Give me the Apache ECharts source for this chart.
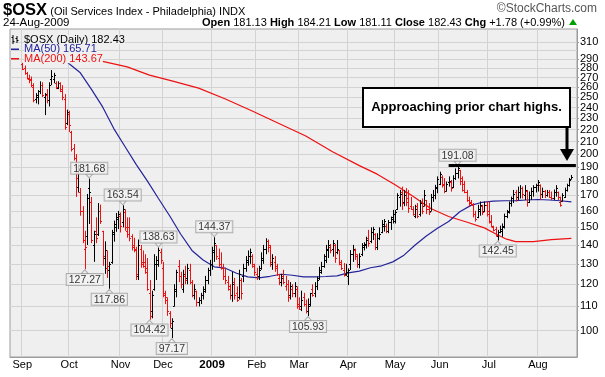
<!DOCTYPE html>
<html>
<head>
<meta charset="utf-8">
<title>$OSX daily</title>
<script src="https://cdn.jsdelivr.net/npm/echarts@6.0.0/dist/echarts.min.js"></script>
<style>
  html, body { margin: 0; padding: 0; background: #ffffff; }
  #chart { width: 605px; height: 377px; }
</style>
</head>
<body>
<div id="chart"></div>
<script>
// trading days on the x axis, by month (late Aug 2008 sits under the legend, no bars there)
const tradingDays = [
  ['2008-08', [25, 26, 27, 28, 29]],
  ['2008-09', [2, 3, 4, 5, 8, 9, 10, 11, 12, 15, 16, 17, 18, 19, 22, 23, 24, 25, 26, 29, 30]],
  ['2008-10', [1, 2, 3, 6, 7, 8, 9, 10, 13, 14, 15, 16, 17, 20, 21, 22, 23, 24, 27, 28, 29, 30, 31]],
  ['2008-11', [3, 4, 5, 6, 7, 10, 11, 12, 13, 14, 17, 18, 19, 20, 21, 24, 25, 26, 28]],
  ['2008-12', [1, 2, 3, 4, 5, 8, 9, 10, 11, 12, 15, 16, 17, 18, 19, 22, 23, 24, 26, 29, 30, 31]],
  ['2009-01', [2, 5, 6, 7, 8, 9, 12, 13, 14, 15, 16, 20, 21, 22, 23, 26, 27, 28, 29, 30]],
  ['2009-02', [2, 3, 4, 5, 6, 9, 10, 11, 12, 13, 17, 18, 19, 20, 23, 24, 25, 26, 27]],
  ['2009-03', [2, 3, 4, 5, 6, 9, 10, 11, 12, 13, 16, 17, 18, 19, 20, 23, 24, 25, 26, 27, 30, 31]],
  ['2009-04', [1, 2, 3, 6, 7, 8, 9, 13, 14, 15, 16, 17, 20, 21, 22, 23, 24, 27, 28, 29, 30]],
  ['2009-05', [1, 4, 5, 6, 7, 8, 11, 12, 13, 14, 15, 18, 19, 20, 21, 22, 26, 27, 28, 29]],
  ['2009-06', [1, 2, 3, 4, 5, 8, 9, 10, 11, 12, 15, 16, 17, 18, 19, 22, 23, 24, 25, 26, 29, 30]],
  ['2009-07', [1, 2, 6, 7, 8, 9, 10, 13, 14, 15, 16, 17, 20, 21, 22, 23, 24, 27, 28, 29, 30, 31]],
  ['2009-08', [3, 4, 5, 6, 7, 10, 11, 12, 13, 14, 17, 18, 19, 20, 21, 24]]
];
const firstBarDate = '2008-09-02';
const padSlots = ['pad-1', 'pad-2'];

// daily bars, 2008-09-02 .. 2009-08-24, one line per month
const opens = [
  285, 280, 275, 268, 268, 260, 248, 250, 256, 262, 250, 252, 247, 268, 268, 264, 259, 264, 256, 248, 226,
  234, 218, 205, 190, 176, 172, 160, 138, 145, 175, 166, 140, 148, 146, 160, 148, 133, 128, 127, 131, 147, 152, 155,
  157, 153, 159, 148, 150, 145, 140, 137, 124, 138, 130, 131, 126, 116, 108, 118, 130, 130, 136,
  128, 116, 113, 107, 101, 110, 117, 129, 124, 118, 124, 123, 127, 121, 115, 117, 112, 113, 115, 117, 122, 127,
  130, 136, 140, 133, 130, 128, 124, 121, 118, 115, 121, 116, 114, 122, 124, 128, 131, 134, 134, 129,
  125, 124, 128, 132, 138, 142, 139, 130, 131, 128, 123, 121, 124, 119, 120, 115, 118, 116, 118,
  110, 110, 114, 111, 108, 111, 118, 116, 119, 123, 127, 129, 132, 137, 139, 138, 140, 136, 137, 130, 127, 125,
  124, 130, 135, 137, 134, 130, 135, 139, 140, 144, 142, 147, 146, 139, 144, 147, 151, 151, 148, 153, 156,
  154, 161, 169, 172, 166, 172, 166, 163, 161, 157, 163, 158, 166, 163, 167, 161, 160, 169, 170, 176,
  178, 183, 178, 173, 179, 179, 176, 182, 186, 188, 180, 178, 172, 167, 166, 164, 158, 156, 160, 163, 160, 164,
  160, 153, 150, 149, 145, 147, 148, 151, 157, 160, 165, 168, 172, 169, 172, 175, 170, 173, 166, 170, 173, 176,
  177, 177, 171, 173, 170, 172, 169, 168, 172, 172, 166, 166.5, 169, 174, 177, 181.13
];
const highs = [
  286, 283, 276, 273, 271, 264, 254, 257, 266, 265, 254, 258, 265, 278, 275, 266, 266, 265, 262, 253, 238,
  237, 219, 208, 200, 192, 175, 163, 148, 171, 181.68, 169, 148, 156, 165, 164, 148, 142, 137, 131, 148.5, 154, 158.7, 160,
  159, 163.54, 161, 156, 156, 146, 144, 139, 143, 140, 137, 135, 133, 122, 117, 135, 134, 138.63, 138,
  131, 117, 114, 108, 105, 120, 127, 132, 126, 127, 129, 130, 130, 122, 120, 117, 114, 116, 119, 124, 128, 132,
  139, 144.37, 140, 138, 136, 130, 128, 124, 120, 126, 123, 119, 127, 123, 130, 134, 137, 138, 135, 130,
  128, 129, 136, 140, 143.7, 143, 140, 135, 134, 130, 125, 125, 127, 124, 122, 121, 120, 121, 119,
  114, 117, 116, 113, 113.5, 116, 120, 121, 123.7, 128.5, 131, 135, 140, 142.7, 140.5, 142.7, 140.5, 142.7, 137.2, 132, 130.4, 130,
  127.7, 137.2, 140, 138, 135, 135.5, 141, 141.5, 144.6, 148.5, 150, 150.3, 146.6, 146.6, 150, 154.4, 155, 152.3, 154.4, 156.5, 160.6,
  160.6, 171.5, 173.7, 176, 173.7, 175, 173.7, 169, 163, 163.9, 165, 167, 168, 173.7, 167, 165, 171, 173.7, 177.2, 183.2,
  186.6, 184, 182, 179.5, 183.2, 180.6, 184, 189, 191.08, 188, 183.2, 180, 173.7, 169.2, 167, 165, 160, 163.9, 166, 163.9, 166, 166,
  166, 157.4, 151, 150.3, 148.5, 151, 152.3, 158.3, 160.6, 166, 169.2, 173.7, 173.7, 176, 177, 176, 177, 173.7, 172.6, 175.3, 177, 178,
  180.6, 177.5, 175.3, 173.7, 173.7, 173.7, 172.6, 174, 177, 172.6, 169.2, 171.5, 175.3, 178, 182, 184.21
];
const lows = [
  278, 273, 268, 264, 260, 245, 244, 243, 253, 250, 233, 244, 241, 262, 264, 258, 258, 255, 247, 220, 224,
  218, 202, 195, 169, 172, 157, 141, 127.27, 140, 152, 141, 131, 141, 145, 152, 129, 125, 123, 117.86, 130, 141.8, 147.4, 149,
  147, 150, 148, 144, 142, 137, 136, 122, 122, 128, 128, 125, 117, 104.42, 105, 117, 122, 128.5, 130,
  114, 111, 106, 101, 97.17, 110, 114, 121, 118, 116, 120, 120, 120, 114, 113, 110, 110, 111, 113, 116, 120, 124,
  127, 131, 132, 128.5, 127, 122, 120, 117, 113, 112, 113, 112, 113, 113, 121, 126, 129, 130, 128, 124,
  122, 122, 127, 130, 135, 136, 128.5, 127, 126, 124, 119.6, 119, 120, 117, 112, 113, 114, 114, 109,
  108.5, 108, 110, 107, 105.93, 110, 114.3, 114, 117.3, 122, 125, 128, 130.4, 133, 135.5, 133.7, 130.5, 135, 129.3, 126.9, 123.7, 124,
  119.6, 126.9, 131, 132, 128, 127.7, 134, 137, 138, 139, 141, 142.7, 137.2, 137.2, 142.7, 146.6, 147.5, 146.6, 146.6, 148.5, 152.3,
  152.3, 160.6, 162.7, 160.6, 163, 163, 158.8, 160.6, 157, 155.5, 155.5, 156.5, 158, 163, 158, 157.4, 160, 165.8, 167.5, 171.5,
  177, 175.3, 171.5, 172.6, 176, 172.6, 175, 180.6, 181.7, 177, 172.6, 171.5, 165.8, 162.7, 163.5, 156, 153.4, 155.5, 157, 157.4, 159.2, 156.5,
  152.3, 150, 147.6, 144.6, 142.45, 146.6, 144.6, 149.3, 155.5, 158.3, 162.7, 165, 166, 167, 168, 168, 167, 162.7, 165, 167, 169.2, 172,
  172.6, 167, 168.3, 168.3, 169.2, 168.3, 167, 167, 169.2, 167, 162.7, 166, 168.3, 172.6, 176, 181.11
];
const closes = [
  279, 275, 269, 267, 262, 247, 252, 256, 262, 252, 253, 247, 262, 272, 273, 260, 264, 258, 250, 222, 236,
  224, 204, 197, 182, 188, 160, 143, 139, 168, 172, 143, 146, 144, 160, 154, 134, 137, 129, 130, 146, 150, 156, 158,
  151, 161, 150, 146, 144, 139, 138, 125, 140, 131, 129, 128, 118, 106, 115, 130, 132, 137, 132,
  115, 114, 108, 103, 104, 118, 126, 124, 120, 125, 122, 128, 121, 115, 118, 112, 113, 115, 118, 122, 127, 130,
  137, 141, 134, 130, 128, 124, 122, 119, 115, 120, 115, 113, 125, 116, 128, 132, 134, 136, 130, 126,
  124, 127, 133, 138, 142, 140, 131, 133, 129, 125, 121, 123, 121, 120, 114, 119, 116, 119, 111,
  109, 113, 111, 108, 110, 116, 115, 119, 122, 126, 129, 134, 138, 140, 137, 141, 133, 138, 131, 128, 124.5, 126,
  127, 135, 138, 135, 130, 134, 140, 140.5, 143, 141, 147, 149, 139, 144, 146, 152, 154, 148, 153, 155, 158,
  159, 170, 171, 165, 170, 168, 162, 161, 158, 161, 157, 165, 160, 170, 161, 159, 169, 170, 175, 181,
  185, 177, 173, 178, 180, 175, 182, 186, 189, 182, 174, 172.5, 167, 165, 164.5, 158, 155, 161, 164, 159, 164, 158,
  154, 151, 148.5, 145.5, 147, 149, 150, 157, 159, 165, 168, 171, 169, 172, 175, 171, 174, 166, 170, 173, 176, 177,
  179, 171, 173, 170, 172, 169, 168, 172, 175, 169, 164, 170, 174, 177, 180.65, 182.43
];

// moving averages, [date, value]
const ma50 = [
  ['2008-09-24', 296], ['2008-10-01', 285], ['2008-10-08', 275], ['2008-10-15', 257.7], ['2008-10-22', 240.6],
  ['2008-10-29', 221], ['2008-11-05', 206], ['2008-11-12', 192], ['2008-11-19', 180], ['2008-11-26', 168],
  ['2008-12-04', 157], ['2008-12-11', 146], ['2008-12-18', 137], ['2008-12-26', 132], ['2009-01-05', 128.5],
  ['2009-01-12', 127.8], ['2009-01-20', 125.3], ['2009-01-27', 123.5], ['2009-02-03', 123], ['2009-02-10', 123.8],
  ['2009-02-18', 124.8], ['2009-02-25', 124.3], ['2009-03-04', 123.5], ['2009-03-11', 123.5], ['2009-03-18', 123.7],
  ['2009-03-25', 124], ['2009-04-01', 125.5], ['2009-04-08', 126.3], ['2009-04-16', 128], ['2009-04-23', 129],
  ['2009-04-30', 131], ['2009-05-07', 134.5], ['2009-05-14', 140], ['2009-05-21', 145], ['2009-05-29', 149.5],
  ['2009-06-05', 153.5], ['2009-06-12', 159.5], ['2009-06-19', 163.5], ['2009-06-26', 165.5], ['2009-07-06', 166.3],
  ['2009-07-13', 166.5], ['2009-07-20', 166.6], ['2009-07-27', 167], ['2009-08-03', 167.3], ['2009-08-10', 167],
  ['2009-08-17', 166.5], ['2009-08-24', 165.71]
];
const ma200 = [
  ['2008-10-09', 292.5], ['2008-10-21', 288.2], ['2008-11-06', 281.5], ['2008-11-20', 272.6], ['2008-12-05', 266.5],
  ['2008-12-23', 259], ['2009-01-12', 248.2], ['2009-01-29', 236.8], ['2009-02-17', 225.4], ['2009-03-05', 214.6],
  ['2009-03-23', 201.8], ['2009-04-08', 191.1], ['2009-04-21', 184.8], ['2009-05-01', 177.3], ['2009-05-13', 169.5],
  ['2009-05-26', 161.5], ['2009-06-05', 156.5], ['2009-06-17', 153.2], ['2009-06-29', 149.7], ['2009-07-08', 145.6],
  ['2009-07-14', 143.2], ['2009-07-20', 141.8], ['2009-07-30', 141.8], ['2009-08-11', 143], ['2009-08-24', 143.67]
];

// bars whose high / low carries a price callout
const highMarks = ['2008-10-14', '2008-11-04', '2008-11-26', '2009-01-05', '2009-06-11'];
const lowMarks = ['2008-10-10', '2008-10-27', '2008-11-20', '2008-12-05', '2009-03-06', '2009-07-08'];

const priceTicks = [100, 110, 120, 130, 140, 150, 160, 170, 180, 190, 200, 210, 220, 230, 240, 250, 260, 270, 280, 290, 300, 310];
const monthNames = ['Jan', 'Feb', 'Mar', 'Apr', 'May', 'Jun', 'Jul', 'Aug', 'Sep', 'Oct', 'Nov', 'Dec'];
const priorHigh = 191.08;
const priorHighFrom = '2009-06-05';

const FONT = '"Liberation Sans", Arial, sans-serif';
const PLOT_BG = '#efefef';
const GRID_LINE = '#d3d3d3';
const UP = '#000000';
const DOWN = '#ee1111';
const MA50_COLOR = '#24249a';
const MA200_COLOR = '#ee1111';

const dates = [];
tradingDays.forEach(([ym, days]) => days.forEach(d => dates.push(ym + '-' + String(d).padStart(2, '0'))));
const categories = dates.concat(padSlots);
const first = dates.indexOf(firstBarDate);
const bars = closes.map((c, k) => [dates[first + k], opens[k], highs[k], lows[k], c]);

function isMonthStart(idx) {
  return idx > 0 && idx < dates.length && dates[idx].slice(0, 7) !== dates[idx - 1].slice(0, 7);
}
function barAt(arr, d) {
  return arr[dates.indexOf(d) - first];
}

function renderBar(params, api) {
  const k = params.dataIndex;
  const x = api.value(0);
  const top = api.coord([x, api.value(2)]);
  const bottom = api.coord([x, api.value(3)]);
  const openY = Math.round(api.coord([x, api.value(1)])[1]) + 0.5;
  const closeY = Math.round(api.coord([x, api.value(4)])[1]) + 0.5;
  const prev = k > 0 ? closes[k - 1] : opens[0];
  const style = { stroke: closes[k] < prev ? DOWN : UP, lineWidth: 1 };
  const px = Math.round(top[0]) + 0.5;
  return {
    type: 'group',
    children: [
      { type: 'line', shape: { x1: px, y1: top[1], x2: px, y2: bottom[1] }, style },
      { type: 'line', shape: { x1: px - 1.5, y1: openY, x2: px, y2: openY }, style },
      { type: 'line', shape: { x1: px, y1: closeY, x2: px + 1.5, y2: closeY }, style }
    ]
  };
}

const calloutLabel = {
  show: true,
  distance: 0,
  formatter: p => p.value[1].toFixed(2),
  fontFamily: FONT,
  fontSize: 10.5,
  color: '#000',
  backgroundColor: '#f4f4f4',
  borderColor: '#a0a0a0',
  borderWidth: 1,
  padding: [1, 2, 0, 2],
  lineHeight: 10
};

const chart = echarts.init(document.getElementById('chart'));

chart.setOption({
  animation: false,
  backgroundColor: '#ffffff',
  grid: {
    left: 10, right: 28, top: 29, bottom: 20,
    show: true, backgroundColor: PLOT_BG, borderColor: '#9c9c9c', borderWidth: 1
  },
  legend: {
    orient: 'vertical', left: 11, top: 34, padding: 0, itemGap: -1.5, itemWidth: 8, itemHeight: 9,
    selectedMode: false,
    textStyle: { fontFamily: FONT, fontSize: 11, lineHeight: 9.5, backgroundColor: PLOT_BG },
    data: [
      { name: '$OSX (Daily) 182.43', icon: 'path://M1,0h1v9h-1zM0,2h1v1h-1zM2,6h1v1h-1zM5,1h1v7h-1zM4,3h1v1h-1zM6,5h1v1h-1z', textStyle: { color: '#000' } },
      { name: 'MA(50) 165.71', icon: 'path://M0,0h0.05v0.05h-0.05zM0,4h8v1.4h-8zM7.95,8.95h0.05v0.05h-0.05z', textStyle: { color: MA50_COLOR } },
      { name: 'MA(200) 143.67', icon: 'path://M0,0h0.05v0.05h-0.05zM0,4h8v1.4h-8zM7.95,8.95h0.05v0.05h-0.05z', textStyle: { color: MA200_COLOR } }
    ]
  },
  xAxis: {
    type: 'category',
    data: categories,
    boundaryGap: true,
    axisLine: { show: true, lineStyle: { color: '#9c9c9c' } },
    axisTick: { show: false },
    axisLabel: {
      interval: idx => isMonthStart(idx),
      margin: 2,
      fontFamily: FONT, fontSize: 11, color: '#000',
      formatter: value => {
        const [y, m] = value.split('-');
        return m === '01' ? '{yr|' + y + '}' : monthNames[+m - 1];
      },
      rich: { yr: { fontFamily: FONT, fontSize: 11.5, fontWeight: 'bold', color: '#000' } }
    },
    splitLine: { show: true, interval: idx => isMonthStart(idx), lineStyle: { color: GRID_LINE, width: 1 } }
  },
  yAxis: {
    type: 'log',
    logBase: 10,
    position: 'right',
    min: 90.2,
    max: 326.6,
    axisLine: { show: true, lineStyle: { color: '#9c9c9c' } },
    axisTick: { show: true, length: 2, customValues: priceTicks, lineStyle: { color: '#9c9c9c' } },
    axisLabel: {
      customValues: priceTicks, showMinLabel: true, showMaxLabel: true, hideOverlap: false,
      margin: 3, fontFamily: FONT, fontSize: 11, color: '#000'
    },
    splitLine: { show: true, lineStyle: { color: GRID_LINE, width: 1 } }
  },
  series: [
    {
      name: 'MA(200) 143.67',
      type: 'line',
      data: ma200,
      symbol: 'none',
      lineStyle: { color: MA200_COLOR, width: 1.2 },
      itemStyle: { color: MA200_COLOR },
      z: 2,
      markLine: {
        silent: true,
        symbol: 'none',
        label: { show: false },
        lineStyle: { color: '#000', width: 3, type: 'solid' },
        data: [[{ coord: [priorHighFrom, priorHigh] }, { coord: [padSlots[1], priorHigh] }]]
      }
    },
    {
      name: 'MA(50) 165.71',
      type: 'line',
      data: ma50,
      symbol: 'none',
      lineStyle: { color: MA50_COLOR, width: 1.2 },
      itemStyle: { color: MA50_COLOR },
      z: 2
    },
    {
      name: '$OSX (Daily) 182.43',
      type: 'custom',
      renderItem: renderBar,
      itemStyle: { color: '#000' },
      encode: { x: 0, y: [1, 2, 3, 4] },
      data: bars,
      z: 3
    },
    {
      type: 'scatter',
      data: highMarks.map(d => [d, barAt(highs, d)]),
      symbol: 'triangle',
      symbolSize: [7, 4],
      symbolRotate: 180,
      symbolOffset: [0, -2.5],
      itemStyle: { color: '#f4f4f4', borderColor: '#a0a0a0', borderWidth: 1 },
      label: Object.assign({ position: 'top' }, calloutLabel),
      z: 4
    },
    {
      type: 'scatter',
      data: lowMarks.map(d => [d, barAt(lows, d)]),
      symbol: 'triangle',
      symbolSize: [7, 4],
      symbolOffset: [0, 2.5],
      itemStyle: { color: '#f4f4f4', borderColor: '#a0a0a0', borderWidth: 1 },
      label: Object.assign({ position: 'bottom' }, calloutLabel),
      z: 4
    }
  ],
  graphic: [
    {
      type: 'text', left: 3, top: 2, z: 100,
      style: {
        text: '{t|$OSX} {s|(Oil Services Index - Philadelphia) INDX}',
        rich: {
          t: { fontFamily: FONT, fontSize: 16.5, fontWeight: 'bold', fill: '#000' },
          s: { fontFamily: FONT, fontSize: 11, fill: '#000', padding: [3, 0, 0, 0] }
        }
      }
    },
    {
      type: 'text', right: 8, top: 3, z: 100,
      style: { text: '\u00a9StockCharts.com', fontFamily: FONT, fontSize: 12, fill: '#555' }
    },
    {
      type: 'text', left: 3, top: 17, z: 100,
      style: { text: '24-Aug-2009', fontFamily: FONT, fontSize: 11.5, fill: '#000' }
    },
    {
      type: 'text', right: 40, top: 17, z: 100,
      style: {
        text: '{b|Open} 181.13 {b|High} 184.21 {b|Low} 181.11 {b|Close} 182.43 {b|Chg} +1.78 (+0.99%)',
        fontFamily: FONT, fontSize: 11, fill: '#000',
        rich: { b: { fontFamily: FONT, fontSize: 11, fontWeight: 'bold', fill: '#000' } }
      }
    },
    {
      type: 'polygon', z: 100,
      shape: { points: [[569, 25], [577, 25], [573, 19]] },
      style: { fill: '#00a000' }
    },
    {
      type: 'rect', z: 100,
      shape: { x: 363, y: 88, width: 207, height: 39 },
      style: { fill: '#ffffff', stroke: '#000', lineWidth: 2 }
    },
    {
      type: 'text', z: 101, x: 466.5, y: 107.5,
      style: {
        text: 'Approaching prior chart highs.', fontFamily: FONT, fontSize: 13, fontWeight: 'bold',
        fill: '#000', align: 'center', verticalAlign: 'middle'
      }
    },
    {
      type: 'line', z: 100,
      shape: { x1: 567, y1: 127, x2: 567, y2: 151 },
      style: { stroke: '#000', lineWidth: 3 }
    },
    {
      type: 'polygon', z: 100,
      shape: { points: [[560, 149], [574, 149], [567, 161]] },
      style: { fill: '#000' }
    }
  ]
});
</script>
</body>
</html>
